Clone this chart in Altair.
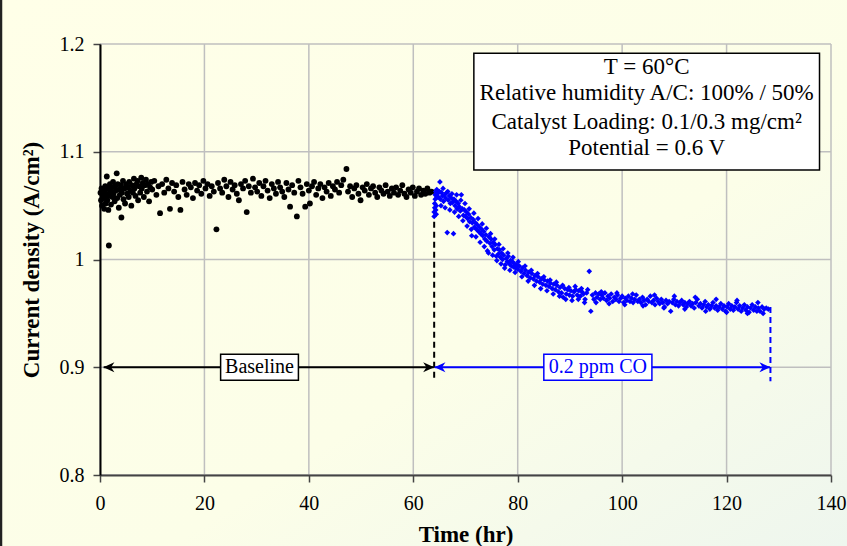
import altair as alt
import pandas as pd

# ---------------- data ----------------
black_hours = [0.1, 0.2, 0.3, 0.4, 0.5, 0.6, 0.7, 0.8, 0.9, 1.0, 1.1, 1.2, 1.3, 1.4, 1.5, 1.6, 1.7, 1.8, 1.9,
               2.0, 2.1, 2.2, 2.4, 2.5, 2.6, 2.8, 2.9, 3.0, 3.2, 3.3, 3.4, 3.6, 3.7, 3.8, 4.0, 4.1, 4.2, 4.4,
               4.5, 4.7, 4.8, 5.0, 5.2, 5.3, 5.5, 5.6, 5.8, 6.0, 6.1, 6.3, 6.5, 6.6, 6.8, 7.0, 7.2, 7.3, 7.5,
               7.7, 7.9, 8.0, 8.2, 8.4, 8.6, 8.8, 9.0, 9.2, 9.4, 9.6, 9.8,
               10.0, 10.4, 10.8, 11.2, 11.5, 11.9, 12.3, 12.7, 13.1, 13.4, 13.8, 14.2, 14.6, 15.0, 15.4, 15.8,
               16.2, 16.6, 17.0, 17.4, 17.8, 18.2, 18.6, 19.0, 19.4, 19.8, 20.2, 20.6, 21.0, 21.4, 21.8, 22.3,
               22.6, 23.0, 23.4, 23.8, 24.2, 24.6, 25.0, 25.4, 25.8, 26.2, 26.6, 27.0, 27.4, 27.8, 28.1, 28.5,
               28.9, 29.3, 29.7, 30.1, 30.5, 30.9, 31.3, 31.7, 32.1, 32.5, 32.9, 33.3, 33.7, 34.1, 34.5, 34.9,
               35.3, 35.7, 36.1, 36.4, 36.8, 37.2, 37.7, 38.0, 38.4, 38.8, 39.3, 39.6, 40.0, 40.2, 40.6, 41.0,
               41.4, 41.8, 42.2, 42.6, 43.0, 43.4, 43.8, 44.2, 44.6, 45.0, 45.4, 45.8, 46.2, 46.6, 47.2, 47.5,
               47.9, 48.3, 48.7, 49.1, 49.5, 49.9, 50.3, 50.7, 51.1, 51.5, 51.9, 52.3, 52.7, 53.1, 53.5, 53.9,
               54.3, 54.7, 55.1, 55.5, 55.9, 56.3, 56.7, 57.1, 57.5, 57.9, 58.3, 58.7, 59.1, 59.5, 59.9, 60.3,
               60.7, 61.1, 61.5, 61.9, 62.3, 62.7, 63.1, 63.5]
black_current = [1.062, 1.055, 1.066, 1.050, 1.060, 1.058, 1.064, 1.047, 1.057, 1.068, 1.052, 1.061, 1.077, 1.055,
                 1.066, 1.046, 1.013, 1.059, 1.070, 1.063, 1.051, 1.067, 1.058, 1.072, 1.061, 1.054, 1.068, 1.064,
                 1.080, 1.057, 1.070, 1.048, 1.065, 1.060, 1.069, 1.039, 1.062, 1.073, 1.056, 1.066, 1.052, 1.070,
                 1.061, 1.067, 1.058, 1.072, 1.064, 1.050, 1.069, 1.062, 1.075, 1.066, 1.059, 1.070, 1.073, 1.055,
                 1.068, 1.062, 1.076, 1.066, 1.071, 1.058, 1.069, 1.074, 1.063, 1.070, 1.054, 1.067, 1.072,
                 1.065, 1.073, 1.060, 1.068, 1.043, 1.070, 1.062, 1.074, 1.066, 1.047, 1.071, 1.063, 1.069, 1.058,
                 1.046, 1.072, 1.065, 1.060, 1.070, 1.067, 1.057, 1.071, 1.064, 1.069, 1.061, 1.073, 1.066, 1.070,
                 1.059, 1.068, 1.063, 1.028, 1.071, 1.066, 1.062, 1.074, 1.068, 1.058, 1.072, 1.065, 1.069, 1.061,
                 1.055, 1.070, 1.066, 1.073, 1.044, 1.068, 1.062, 1.075, 1.067, 1.063, 1.071, 1.059, 1.068, 1.073,
                 1.064, 1.057, 1.070, 1.066, 1.061, 1.072, 1.067, 1.063, 1.058, 1.071, 1.065, 1.049, 1.069, 1.062,
                 1.040, 1.073, 1.067, 1.061, 1.049, 1.070, 1.064, 1.052, 1.068, 1.072, 1.060, 1.066, 1.070, 1.057,
                 1.067, 1.063, 1.071, 1.059, 1.068, 1.065, 1.072, 1.062, 1.069, 1.074, 1.084, 1.063, 1.068, 1.058,
                 1.066, 1.069, 1.061, 1.055, 1.067, 1.064, 1.070, 1.060, 1.066, 1.068, 1.062, 1.058, 1.067, 1.064,
                 1.061, 1.069, 1.063, 1.059, 1.066, 1.062, 1.067, 1.060, 1.064, 1.069, 1.061, 1.058, 1.065, 1.062,
                 1.067, 1.059, 1.063, 1.066, 1.060, 1.064, 1.061, 1.066, 1.062, 1.063]

blue_hours = [64.0, 64.0, 64.1, 64.1, 64.2, 64.2, 64.3, 64.3, 64.4, 64.4, 64.5, 64.6,
              64.6, 64.8, 65.0, 65.1, 65.2, 65.4, 65.6, 65.8, 66.0, 66.2, 66.4, 66.5, 66.7, 66.9, 67.1, 67.3,
              67.5, 67.7, 67.8, 68.0, 68.2, 68.4, 68.6, 68.8, 69.0, 69.2, 69.4, 69.6, 69.8, 70.0, 70.2, 70.4,
              70.6, 70.8, 71.0, 71.2, 71.3, 71.5, 71.7, 71.9, 72.1, 72.3, 72.5, 72.7, 72.9, 73.1, 73.3, 73.5,
              73.7, 73.9, 74.1, 74.4, 74.5, 74.7, 74.9, 75.1, 75.3, 75.5, 75.7, 75.9, 76.1, 76.3, 76.5, 76.7,
              76.9, 77.1, 77.3, 77.6, 77.8, 78.0, 78.2, 78.4, 78.6, 78.8, 79.0, 79.2, 79.4, 79.6, 79.8, 80.0,
              80.3, 80.6, 80.9, 81.2, 81.5, 81.8, 82.1, 82.4, 82.7, 83.0, 83.3, 83.6, 83.9, 84.2, 84.5, 84.8,
              85.1, 85.4, 85.7, 86.0, 86.3, 86.6, 86.9, 87.2, 87.5, 87.8, 88.1, 88.4, 88.7, 89.0, 89.3, 89.6,
              89.9, 90.2, 90.5, 90.8, 91.1, 91.4, 91.7, 92.0, 92.3, 92.6, 92.9, 93.2, 93.7, 94.0, 94.3, 94.6,
              94.9, 95.2, 95.5, 95.8, 96.1, 96.4, 96.7, 97.0, 97.3, 97.6, 97.9, 98.2, 98.5, 98.8, 99.1, 99.4,
              99.7, 100.0, 100.3, 100.6, 100.9, 101.2, 101.5, 101.8, 102.1, 102.4, 102.7, 103.0, 103.3, 103.6,
              103.9, 104.2, 104.5, 104.8, 105.1, 105.4, 105.7, 106.0, 106.3, 106.6, 106.9, 107.2, 107.5, 107.8,
              108.1, 108.4, 108.7, 109.0, 109.3, 109.6, 109.9, 110.2, 110.5, 110.8, 111.1, 111.4, 111.7, 112.0,
              112.3, 112.6, 112.9, 113.2, 113.5, 113.8, 114.1, 114.4, 114.7, 115.0, 115.3, 115.6, 115.9, 116.2,
              116.5, 116.8, 117.1, 117.4, 117.7, 118.0, 118.3, 118.6, 118.9, 119.2, 119.5, 119.8, 120.1, 120.4,
              120.7, 121.0, 121.3, 121.6, 121.9, 122.2, 122.5, 122.8, 123.1, 123.4, 123.7, 124.0, 124.3, 124.6,
              124.9, 125.2, 125.5, 125.8, 126.1, 126.4, 126.8, 127.2, 127.6, 128.0,
              65.3, 65.7, 66.1, 66.6, 67.0, 67.4, 67.9, 68.3, 68.7, 69.1, 69.5, 69.9, 70.3, 70.7, 71.1, 71.6,
              72.0, 72.4, 72.8, 73.2, 73.6, 74.0, 74.2, 74.8, 75.2, 75.6, 76.0, 76.4, 76.8, 77.2, 77.5, 78.1,
              78.5, 79.1, 79.5, 80.1, 80.8, 81.4, 82.0, 82.6, 83.2, 83.8, 84.4, 85.0, 85.6, 86.2, 86.8, 87.4,
              88.0, 88.6, 89.2, 89.8, 90.4, 91.0, 91.6, 92.2, 92.8, 93.4, 95.0, 96.0, 97.5, 99.0, 100.5, 102.0,
              104.0, 106.2, 108.0, 110.0, 112.0, 114.0, 116.0, 118.0, 120.0, 122.0, 124.0, 126.0, 127.0]
blue_current = [1.040, 1.044, 1.048, 1.052, 1.056, 1.060, 1.063, 1.046, 1.042, 1.050, 1.065, 1.058,
                1.061, 1.058, 1.063, 1.072, 1.056, 1.062, 1.059, 1.054, 1.060, 1.057, 1.062, 1.025, 1.055, 1.059,
                1.052, 1.057, 1.053, 1.024, 1.056, 1.050, 1.054, 1.047, 1.052, 1.049, 1.045, 1.060, 1.047, 1.041,
                1.046, 1.040, 1.044, 1.038, 1.042, 1.035, 1.039, 1.022, 1.034, 1.037, 1.030, 1.034, 1.028, 1.032,
                1.026, 1.030, 1.024, 1.028, 1.022, 1.026, 1.019, 1.023, 1.017, 1.006, 1.021, 1.015, 1.019, 1.012,
                1.016, 1.009, 1.014, 1.003, 1.010, 1.005, 1.009, 1.002, 1.006, 1.000, 1.004, 0.995, 1.001, 0.998,
                1.003, 0.996, 0.999, 0.994, 0.998, 0.993, 0.996, 0.992, 0.995, 0.991,
                0.994, 0.989, 0.992, 0.987, 0.990, 0.985, 0.988, 0.983, 0.987, 0.982, 0.985, 0.980, 0.984, 0.979,
                0.982, 0.977, 0.981, 0.976, 0.980, 0.975, 0.978, 0.973, 0.977, 0.972, 0.976, 0.970, 0.974, 0.969,
                0.965, 0.973, 0.968, 0.972, 0.967, 0.971, 0.966, 0.970, 0.972, 0.967, 0.971, 0.966, 0.970, 0.968,
                0.963, 0.969, 0.989, 0.952, 0.967, 0.963, 0.969, 0.965, 0.968, 0.963, 0.967, 0.964, 0.969, 0.962,
                0.966, 0.964, 0.968, 0.961, 0.965, 0.963, 0.967, 0.961, 0.964, 0.966, 0.960, 0.964, 0.962, 0.966,
                0.961, 0.964, 0.960, 0.963, 0.967, 0.961, 0.963, 0.960, 0.965, 0.962, 0.958, 0.963, 0.961, 0.966,
                0.960, 0.962, 0.958, 0.964, 0.961, 0.959, 0.963, 0.960, 0.956, 0.962, 0.959, 0.961, 0.952, 0.960,
                0.963, 0.958, 0.961, 0.957, 0.960, 0.962, 0.958, 0.960, 0.956, 0.959, 0.961, 0.957, 0.959, 0.955,
                0.960, 0.963, 0.957, 0.959, 0.955, 0.958, 0.961, 0.956, 0.958, 0.954, 0.957, 0.960, 0.955, 0.957,
                0.953, 0.956, 0.959, 0.954, 0.957, 0.952, 0.956, 0.959, 0.954, 0.957, 0.953, 0.956, 0.960, 0.954,
                0.957, 0.952, 0.955, 0.958, 0.953, 0.956, 0.951, 0.955, 0.958, 0.953, 0.956, 0.952, 0.955, 0.952,
                0.956, 0.954, 0.955, 0.954,
                1.050, 1.066, 1.048, 1.063, 1.046, 1.061, 1.044, 1.060, 1.040, 1.055, 1.036, 1.052, 1.031, 1.047,
                1.028, 1.043, 1.021, 1.038, 1.016, 1.033, 1.012, 1.029, 1.008, 1.024, 1.004, 1.019, 0.999, 1.014,
                0.996, 1.010, 0.992, 1.006, 0.990, 1.002, 0.988, 0.998, 0.984, 0.994, 0.980, 0.990, 0.976, 0.987,
                0.973, 0.984, 0.971, 0.981, 0.968, 0.979, 0.966, 0.976, 0.963, 0.974, 0.962, 0.975, 0.963, 0.973,
                0.960, 0.972, 0.960, 0.970, 0.959, 0.969, 0.958, 0.968, 0.957, 0.967, 0.955, 0.966, 0.954, 0.965,
                0.952, 0.963, 0.951, 0.962, 0.950, 0.960, 0.950]

x_ticks = [0, 20, 40, 60, 80, 100, 120, 140]
y_ticks = [0.8, 0.9, 1.0, 1.1, 1.2]

info_lines = ["T = 60°C", "Relative humidity A/C: 100% / 50%",
              "Catalyst Loading: 0.1/0.3 mg/cm²", "Potential = 0.6 V"]
phase_labels = ["Baseline", "0.2 ppm CO"]

# ---------------- chart ----------------
SERIF = "Liberation Serif"
W, H = 731, 431

black_df = pd.DataFrame({"t": black_hours, "j": black_current})
blue_df = pd.DataFrame({"t": blue_hours, "j": blue_current})
one = alt.Data(values=[{"k": 0}])

xs = alt.Scale(domain=[0, 140], nice=False, zero=False)
ys = alt.Scale(domain=[0.8, 1.2], nice=False, zero=False)

X = alt.X("t:Q", scale=xs, axis=alt.Axis(
    values=x_ticks, title="Time (hr)", grid=False, format="d", zindex=1, labelFlush=False,
    labelFont=SERIF, labelFontSize=20, labelColor="black", labelPadding=11,
    titleFont=SERIF, titleFontSize=23, titleFontWeight="bold", titleColor="black", titlePadding=10,
    domainColor="#444444", domainWidth=2, tickColor="#444444", tickWidth=1.5, tickSize=7))
Y = alt.Y("j:Q", scale=ys, axis=alt.Axis(
    values=y_ticks, title="Current density (A/cm²)", grid=False, format="~g", zindex=1, labelFlush=False,
    labelFont=SERIF, labelFontSize=20, labelColor="black", labelPadding=9,
    titleFont=SERIF, titleFontSize=23, titleFontWeight="bold", titleColor="black", titlePadding=16,
    domainColor="black", domainWidth=2, tickColor="#444444", tickWidth=1.5, tickSize=7))

bg = alt.Chart(one).mark_rect(
    color=alt.Gradient(gradient="linear",
                       stops=[alt.GradientStop(color="#FFFFE8", offset=0),
                              alt.GradientStop(color="#FCFEE8", offset=0.6),
                              alt.GradientStop(color="#EEF6EE", offset=1)],
                       x1=0, y1=0, x2=1, y2=1)
).encode(x=alt.value(-100), x2=alt.value(747), y=alt.value(-44), y2=alt.value(502))

frame_left = alt.Chart(one).mark_rule(color="#222222", strokeWidth=2.5).encode(
    x=alt.value(-99), y=alt.value(-44), y2=alt.value(502))

vgrid = alt.Chart(pd.DataFrame({"t": x_ticks})).mark_rule(color="#BFBFBF", strokeWidth=1.5).encode(x=X)
hgrid = alt.Chart(pd.DataFrame({"j": y_ticks})).mark_rule(color="#BFBFBF", strokeWidth=1.5).encode(y=Y)

black_pts = alt.Chart(black_df).mark_point(
    shape="circle", filled=True, size=34, color="black", opacity=1).encode(x=X, y=Y)
blue_pts = alt.Chart(blue_df).mark_point(
    shape="diamond", filled=True, size=32, color="#0000FF", opacity=1).encode(x=X, y=Y)

# dashed markers of the phase boundaries
dash_black = alt.Chart(one).mark_rule(color="black", strokeWidth=2, strokeDash=[6, 4]).encode(
    x=alt.datum(64.0), y=alt.datum(1.035), y2=alt.datum(0.889))
dash_blue = alt.Chart(one).mark_rule(color="#0000FF", strokeWidth=2, strokeDash=[6, 4]).encode(
    x=alt.datum(128.4), y=alt.datum(0.956), y2=alt.datum(0.887))

# double arrows
arrow_black = alt.Chart(one).mark_rule(color="black", strokeWidth=2).encode(
    x=alt.datum(0.7), x2=alt.datum(63.9), y=alt.datum(0.9))
arrow_blue = alt.Chart(one).mark_rule(color="#0000FF", strokeWidth=2).encode(
    x=alt.datum(64.1), x2=alt.datum(128.3), y=alt.datum(0.9))
RIGHT = "M 0 0 L -2 -0.9 L -1.4 0 L -2 0.9 Z"
LEFT = "M 0 0 L 2 -0.9 L 1.4 0 L 2 0.9 Z"
def head(x, shape, color):
    return alt.Chart(one).mark_point(shape=shape, filled=True, size=121, color=color, opacity=1,
                                     strokeWidth=0).encode(x=alt.datum(x), y=alt.datum(0.9))
heads = [head(0.65, LEFT, "black"), head(64.0, RIGHT, "black"),
         head(64.05, LEFT, "#0000FF"), head(128.4, RIGHT, "#0000FF")]

# label boxes on the arrows
box_base = alt.Chart(one).mark_rect(fill="white", stroke="black", strokeWidth=1.5).encode(
    x=alt.datum(23.1), x2=alt.datum(38.0), y=alt.datum(0.9121), y2=alt.datum(0.8880))
txt_base = alt.Chart(one).mark_text(font=SERIF, fontSize=20, color="black", baseline="middle").encode(
    x=alt.datum(30.55), y=alt.datum(0.9003), text=alt.value(phase_labels[0]))
box_co = alt.Chart(one).mark_rect(fill="white", stroke="#0000FF", strokeWidth=1.5).encode(
    x=alt.datum(85.0), x2=alt.datum(105.7), y=alt.datum(0.9121), y2=alt.datum(0.8880))
txt_co = alt.Chart(one).mark_text(font=SERIF, fontSize=20, color="#0000FF", baseline="middle").encode(
    x=alt.datum(95.35), y=alt.datum(0.9003), text=alt.value(phase_labels[1]))

# info box
info_box = alt.Chart(one).mark_rect(fill="white", stroke="black", strokeWidth=1.5).encode(
    x=alt.datum(71.6), x2=alt.datum(137.8), y=alt.datum(1.1914), y2=alt.datum(1.0831))
info_y = [1.1789, 1.1548, 1.1279, 1.1032]
info_txt = [alt.Chart(one).mark_text(font=SERIF, fontSize=23, color="black", baseline="middle").encode(
    x=alt.datum(104.7), y=alt.datum(yv), text=alt.value(s)) for s, yv in zip(info_lines, info_y)]

chart = alt.layer(
    bg, vgrid, hgrid, black_pts, blue_pts, frame_left, dash_black, dash_blue,
    arrow_black, arrow_blue, *heads, box_base, txt_base, box_co, txt_co, info_box, *info_txt
).properties(
    width=W, height=H,
    autosize=alt.AutoSizeParams(type="none"),
    padding={"left": 100, "top": 44, "right": 16, "bottom": 71},
    background="#FFFFE8",
).configure_view(
    stroke="#666666", strokeWidth=2, fill=None
).configure_axis(zindex=1)

chart.save("out.html", embed_options={"renderer": "svg", "actions": False})
